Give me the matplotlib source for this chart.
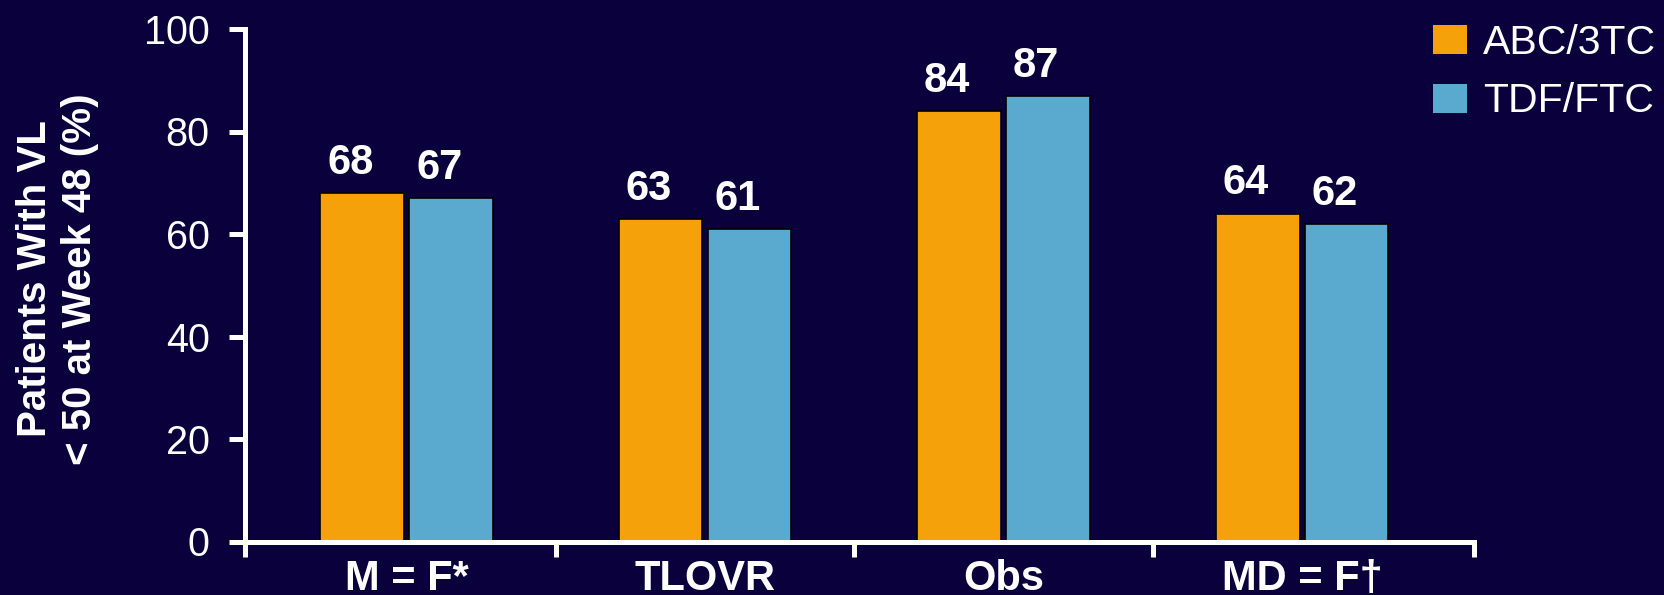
import matplotlib
matplotlib.use("Agg")
import matplotlib.pyplot as plt
from matplotlib.patches import Patch

# Data
categories = ["M = F*", "TLOVR", "Obs", "MD = F\u2020"]
series_names = ["ABC/3TC", "TDF/FTC"]
abc_3tc = [68, 63, 84, 64]
tdf_ftc = [67, 61, 87, 62]
y_ticks = [0, 20, 40, 60, 80, 100]

BG = "#0a003c"
ORANGE = "#f5a20a"
BLUE = "#5aaacf"
WHITE = "white"
FONT = "Liberation Sans"

plt.rcParams["font.family"] = [FONT, "DejaVu Sans"]

W, H = 1664, 595
fig = plt.figure(figsize=(W / 100, H / 100), dpi=100, facecolor=BG)
ax = fig.add_axes([245 / W, 1 - 541.5 / H, (1474 - 245) / W, (541.5 - 29) / H])
ax.set_facecolor(BG)

# one category = 1 x unit; the axis line runs a little past the outer groups
n = len(categories)
pos = list(range(n))
bar_w = 0.281
gap = 0.017
x_a = [p - (bar_w + gap) / 2 for p in pos]
x_b = [p + (bar_w + gap) / 2 for p in pos]
x_left, x_right = -0.541, n - 1 + 0.576

ax.bar(x_a, abc_3tc, width=bar_w, color=ORANGE, edgecolor="black",
       linewidth=1.2, label=series_names[0], zorder=2)
ax.bar(x_b, tdf_ftc, width=bar_w, color=BLUE, edgecolor="black",
       linewidth=1.2, label=series_names[1], zorder=2)

# value labels sit slightly left of each bar's centre
for xs, vals in ((x_a, abc_3tc), (x_b, tdf_ftc)):
    for x, v in zip(xs, vals):
        ax.annotate(f"{v}", xy=(x, v), xytext=(-8.5, 13.7), textcoords="offset points",
                    ha="center", va="baseline", color=WHITE, fontsize=30,
                    fontweight="bold")

ax.set_xlim(x_left, x_right)
ax.set_ylim(0, 100)

# y axis
ax.set_yticks(y_ticks)
ax.set_yticklabels([str(t) for t in y_ticks])
ax.tick_params(axis="y", direction="out", length=11.5, width=3.6, color=WHITE,
               labelcolor=WHITE, labelsize=28.5, pad=14)

# x axis: separator ticks between groups (and at both ends), names on minor ticks
sep = [x_left] + [p + 0.5 for p in pos[:-1]] + [x_right]
ax.set_xticks(sep)
ax.set_xticklabels([""] * len(sep))
ax.set_xticks(pos, minor=True)
ax.set_xticklabels(categories, minor=True, fontsize=30, fontweight="bold",
                   color=WHITE)
ax.tick_params(axis="x", which="major", direction="out", length=10.5, width=3.6,
               color=WHITE)
ax.tick_params(axis="x", which="minor", length=0, pad=12.5)

for side in ("top", "right"):
    ax.spines[side].set_visible(False)
for side in ("left", "bottom"):
    ax.spines[side].set_color(WHITE)
    ax.spines[side].set_linewidth(3.6)
    ax.spines[side].set_zorder(3)

# y-axis title (two lines)
fig.text(35 / W, 1 - 279 / H, "Patients With VL", rotation=90, ha="center",
         va="center", color=WHITE, fontsize=29, fontweight="bold")
fig.text(80 / W, 1 - 279 / H, "< 50 at Week 48 (%)", rotation=90, ha="center",
         va="center", color=WHITE, fontsize=29, fontweight="bold")

handles = [Patch(facecolor=ORANGE, edgecolor="none"),
           Patch(facecolor=BLUE, edgecolor="none")]
leg = fig.legend(handles, series_names, loc="upper right",
                 bbox_to_anchor=(1656 / W, 1 - 24 / H), frameon=False,
                 fontsize=29.5, handlelength=0.83, handleheight=0.71,
                 handletextpad=0.39, labelspacing=0.5, borderpad=0,
                 borderaxespad=0)
for t in leg.get_texts():
    t.set_color(WHITE)

fig.savefig("out.png", dpi=100, facecolor=BG)
